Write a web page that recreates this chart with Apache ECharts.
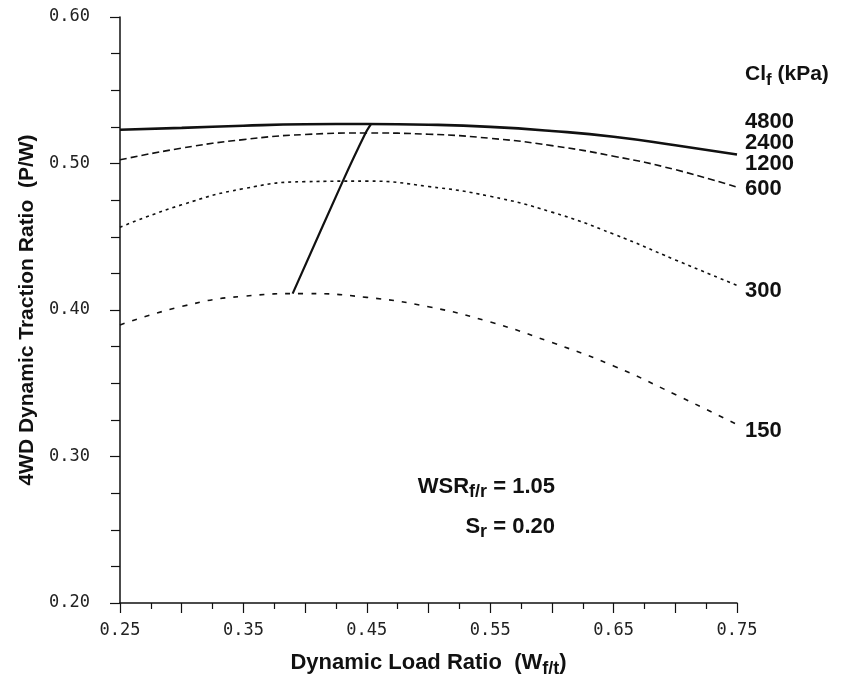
<!DOCTYPE html>
<html>
<head>
    <meta charset="utf-8">
    <script src="https://cdn.jsdelivr.net/npm/echarts@6/dist/echarts.min.js"></script>
    <style>
        html, body { margin: 0; padding: 0; background: #fff; }
        #main { width: 844px; height: 683px; }
    </style>
</head>

<body>
    <div id="main"></div>

    <script type="text/javascript">
        // dynamic load ratio, read every 0.05
        var loadRatio = [0.25, 0.30, 0.35, 0.40, 0.45, 0.50, 0.55, 0.60, 0.65, 0.70, 0.75];

        // traction ratio for each cone index (kPa)
        var ci1200to4800 = [0.523, 0.5243, 0.5258, 0.5268, 0.527, 0.5265, 0.525, 0.5222, 0.5183, 0.5125, 0.5062];
        var ci600 = [0.5025, 0.5105, 0.5163, 0.5198, 0.5208, 0.52, 0.5172, 0.5122, 0.505, 0.4958, 0.4838];
        var ci300 = [0.4565, 0.4718, 0.4828, 0.4876, 0.488, 0.4843, 0.4776, 0.4668, 0.4518, 0.4342, 0.4168];
        var ci150 = [0.3898, 0.4024, 0.4094, 0.4112, 0.4086, 0.4022, 0.3918, 0.3778, 0.3618, 0.3423, 0.3218];

        // line through the maxima
        var optLoad = [0.3899, 0.4305, 0.4489, 0.4535];
        var optTraction = [0.4112, 0.4878, 0.5206, 0.527];

        var ciLabels = ['4800', '2400', '1200', '600', '300', '150'];
        var ciLabelTop = [111, 132, 153, 178, 280, 420];

        function pairs(xs, ys) {
            return xs.map(function (x, i) { return [x, ys[i]]; });
        }

        var myChart = echarts.init(document.getElementById('main'));

        var boldFont = '"Liberation Sans", Arial, sans-serif';
        var tickFont = '"DejaVu Sans Mono", monospace';

        function curve(name, ys, type, width) {
            return {
                name: name,
                type: 'line',
                data: pairs(loadRatio, ys),
                smooth: true,
                showSymbol: false,
                lineStyle: { color: '#111', width: width, type: type }
            };
        }

        var labelGraphics = ciLabels.map(function (t, i) {
            return {
                type: 'text', left: 745, top: ciLabelTop[i],
                style: { text: t, font: 'bold 22px ' + boldFont, fill: '#111' }
            };
        });

        function subText(main, sub, rest, size) {
            return {
                text: '{t|' + main + '}{s|' + sub + '}{t|' + rest + '}',
                rich: {
                    t: { fontFamily: boldFont, fontWeight: 'bold', fontSize: size, fill: '#111' },
                    s: { fontFamily: boldFont, fontWeight: 'bold', fontSize: size - 4, fill: '#111', padding: [11, 0, 0, 0] }
                }
            };
        }

        myChart.setOption({
            animation: false,
            grid: { left: 120, right: 107, top: 17, bottom: 78 },
            xAxis: {
                type: 'value',
                min: 0.25,
                max: 0.75,
                interval: 0.05,
                name: '{t|Dynamic Load Ratio  (W}{s|f/t}{t|)}',
                nameLocation: 'middle',
                nameGap: 45,
                nameTextStyle: {
                    rich: {
                        t: { fontFamily: boldFont, fontWeight: 'bold', fontSize: 22, color: '#111' },
                        s: { fontFamily: boldFont, fontWeight: 'bold', fontSize: 18, color: '#111', padding: [12, 0, 0, 0] }
                    }
                },
                axisLine: { lineStyle: { color: '#111', width: 1.5 } },
                axisTick: { length: 10, lineStyle: { color: '#111', width: 1.2 } },
                minorTick: { show: true, splitNumber: 2, length: 6, lineStyle: { color: '#111', width: 1.2 } },
                axisLabel: {
                    margin: 19,
                    fontFamily: tickFont,
                    fontSize: 17,
                    color: '#222',
                    formatter: function (v) {
                        return Math.round(v * 100) % 10 === 5 ? v.toFixed(2) : '';
                    }
                },
                splitLine: { show: false }
            },
            yAxis: {
                type: 'value',
                min: 0.2,
                max: 0.6,
                interval: 0.1,
                name: '4WD Dynamic Traction Ratio  (P/W)',
                nameLocation: 'middle',
                nameGap: 79,
                nameTextStyle: { fontFamily: boldFont, fontWeight: 'bold', fontSize: 21, color: '#111' },
                axisLine: { show: true, lineStyle: { color: '#111', width: 1.5 } },
                axisTick: { show: true, length: 10, lineStyle: { color: '#111', width: 1.2 } },
                minorTick: { show: true, splitNumber: 4, length: 9, lineStyle: { color: '#111', width: 1.2 } },
                axisLabel: {
                    margin: 30,
                    fontFamily: tickFont,
                    fontSize: 17,
                    color: '#222',
                    formatter: function (v) { return v.toFixed(2); }
                },
                splitLine: { show: false }
            },
            series: [
                curve('1200-4800', ci1200to4800, 'solid', 2.6),
                curve('600', ci600, [7, 4], 1.6),
                curve('300', ci300, [3, 4], 1.6),
                curve('150', ci150, [5, 8], 1.6),
                {
                    name: 'optimum',
                    type: 'line',
                    data: pairs(optLoad, optTraction),
                    smooth: 0.3,
                    showSymbol: false,
                    lineStyle: { color: '#111', width: 2.2 }
                }
            ],
            graphic: [
                { type: 'text', left: 745, top: 64, style: subText('Cl', 'f', ' (kPa)', 21) },
                { type: 'text', right: 289, top: 476, style: subText('WSR', 'f/r', ' = 1.05', 22) },
                { type: 'text', right: 289, top: 516, style: subText('S', 'r', ' = 0.20', 22) }
            ].concat(labelGraphics)
        });
    </script>
</body>

</html>
